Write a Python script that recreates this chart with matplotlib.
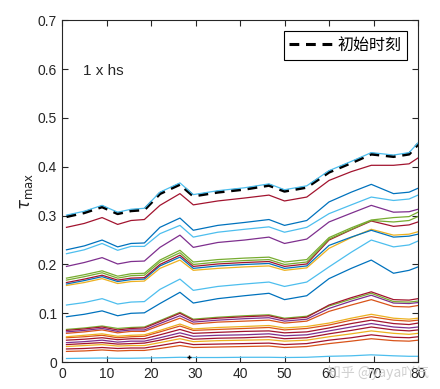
import matplotlib.pyplot as plt
import numpy as np

plt.rcParams['font.family'] = ['Liberation Sans', 'DejaVu Sans']

# sample positions along the x axis
x = [1, 5, 9, 12.5, 15.5, 18.5, 22, 26.5, 29.5, 35, 41, 46.5, 50, 55, 60, 65, 69.5, 74.5, 78, 80]

# initial state (dashed)
init = [0.298, 0.306, 0.318, 0.304, 0.310, 0.312, 0.345, 0.364, 0.340, 0.348, 0.354, 0.362, 0.350, 0.358,
        0.389, 0.408, 0.426, 0.421, 0.426, 0.446]
top_blue = [0.301, 0.309, 0.321, 0.307, 0.313, 0.315, 0.348, 0.367, 0.343, 0.351, 0.357, 0.365, 0.353, 0.361,
            0.392, 0.411, 0.429, 0.424, 0.429, 0.449]
red1 = [0.276, 0.284, 0.296, 0.282, 0.290, 0.292, 0.321, 0.345, 0.322, 0.330, 0.336, 0.342, 0.330, 0.338,
        0.372, 0.390, 0.403, 0.403, 0.406, 0.418]
blue1 = [0.230, 0.238, 0.250, 0.236, 0.243, 0.244, 0.276, 0.295, 0.270, 0.280, 0.286, 0.292, 0.280, 0.290,
         0.328, 0.348, 0.364, 0.345, 0.348, 0.356]
cyan1 = [0.222, 0.230, 0.243, 0.229, 0.237, 0.237, 0.263, 0.280, 0.256, 0.266, 0.272, 0.277, 0.266, 0.276,
         0.304, 0.322, 0.338, 0.331, 0.334, 0.342]
purple1 = [0.196, 0.204, 0.214, 0.201, 0.206, 0.207, 0.235, 0.260, 0.235, 0.245, 0.250, 0.256, 0.243, 0.252,
           0.287, 0.305, 0.321, 0.307, 0.308, 0.313]
green1 = [0.172, 0.179, 0.187, 0.176, 0.181, 0.182, 0.209, 0.229, 0.205, 0.210, 0.213, 0.215, 0.205, 0.210,
          0.255, 0.275, 0.291, 0.296, 0.298, 0.307]
green2 = [0.168, 0.175, 0.183, 0.172, 0.177, 0.178, 0.205, 0.224, 0.200, 0.205, 0.208, 0.210, 0.200, 0.205,
          0.252, 0.272, 0.290, 0.287, 0.290, 0.298]
darkred1 = [0.163, 0.170, 0.178, 0.168, 0.172, 0.173, 0.200, 0.219, 0.196, 0.201, 0.204, 0.206, 0.196, 0.201,
            0.250, 0.271, 0.289, 0.278, 0.281, 0.287]
navy1 = [0.160, 0.167, 0.175, 0.165, 0.169, 0.170, 0.197, 0.215, 0.192, 0.197, 0.200, 0.202, 0.192, 0.197,
         0.239, 0.256, 0.270, 0.256, 0.258, 0.262]
yellow1 = [0.157, 0.163, 0.171, 0.161, 0.165, 0.166, 0.192, 0.209, 0.188, 0.192, 0.195, 0.197, 0.188, 0.193,
           0.233, 0.255, 0.272, 0.260, 0.262, 0.267]
cyan2 = [0.117, 0.122, 0.130, 0.119, 0.123, 0.124, 0.149, 0.170, 0.147, 0.155, 0.160, 0.164, 0.155, 0.164,
         0.195, 0.225, 0.250, 0.236, 0.240, 0.248]
blue2 = [0.093, 0.098, 0.105, 0.095, 0.100, 0.101, 0.120, 0.143, 0.121, 0.130, 0.136, 0.141, 0.128, 0.136,
         0.171, 0.192, 0.209, 0.182, 0.188, 0.195]

# lower bundle
low1 = [0.065, 0.068, 0.072, 0.066, 0.069, 0.070, 0.083, 0.100, 0.086, 0.090, 0.093, 0.095, 0.088, 0.092,
        0.117, 0.132, 0.144, 0.128, 0.127, 0.130]
low2 = [0.067, 0.070, 0.074, 0.069, 0.071, 0.072, 0.085, 0.102, 0.088, 0.092, 0.095, 0.097, 0.090, 0.094,
        0.115, 0.129, 0.141, 0.124, 0.123, 0.125]
low3 = [0.062, 0.065, 0.069, 0.063, 0.066, 0.066, 0.079, 0.095, 0.082, 0.086, 0.089, 0.091, 0.084, 0.088,
        0.110, 0.125, 0.137, 0.121, 0.120, 0.122]
low4 = [0.059, 0.062, 0.066, 0.060, 0.063, 0.063, 0.075, 0.090, 0.078, 0.082, 0.084, 0.086, 0.080, 0.084,
        0.104, 0.117, 0.128, 0.114, 0.113, 0.116]
low5 = [0.052, 0.055, 0.058, 0.053, 0.055, 0.056, 0.065, 0.078, 0.068, 0.071, 0.073, 0.075, 0.070, 0.073,
        0.080, 0.090, 0.098, 0.090, 0.088, 0.090]
low6 = [0.050, 0.052, 0.055, 0.050, 0.052, 0.053, 0.062, 0.074, 0.065, 0.067, 0.069, 0.071, 0.066, 0.069,
        0.076, 0.086, 0.093, 0.086, 0.084, 0.086]
low7 = [0.045, 0.047, 0.050, 0.046, 0.048, 0.048, 0.056, 0.067, 0.059, 0.061, 0.063, 0.064, 0.060, 0.062,
        0.070, 0.079, 0.086, 0.079, 0.077, 0.080]
low8 = [0.040, 0.042, 0.045, 0.041, 0.043, 0.043, 0.050, 0.060, 0.053, 0.055, 0.056, 0.058, 0.054, 0.056,
        0.064, 0.072, 0.079, 0.072, 0.070, 0.072]
low9 = [0.036, 0.038, 0.040, 0.037, 0.038, 0.039, 0.045, 0.054, 0.047, 0.049, 0.050, 0.052, 0.048, 0.050,
        0.058, 0.065, 0.072, 0.066, 0.064, 0.066]
low10 = [0.032, 0.034, 0.036, 0.033, 0.034, 0.034, 0.040, 0.048, 0.042, 0.044, 0.045, 0.046, 0.043, 0.045,
         0.052, 0.058, 0.064, 0.059, 0.057, 0.059]
low11 = [0.027, 0.028, 0.030, 0.028, 0.029, 0.029, 0.034, 0.041, 0.036, 0.037, 0.038, 0.039, 0.036, 0.038,
         0.045, 0.050, 0.056, 0.051, 0.050, 0.052]
low12 = [0.022, 0.023, 0.025, 0.023, 0.024, 0.024, 0.028, 0.034, 0.030, 0.031, 0.032, 0.033, 0.030, 0.032,
         0.038, 0.043, 0.048, 0.044, 0.043, 0.045]
bottom = [0.0075, 0.008, 0.0085, 0.008, 0.008, 0.0085, 0.009, 0.010, 0.0095, 0.0095, 0.010, 0.010, 0.0095,
          0.010, 0.012, 0.013, 0.015, 0.013, 0.012, 0.012]

# matlab default colours
c_blue = (0, 0.447, 0.741)
c_orange = (0.85, 0.325, 0.098)
c_yellow = (0.929, 0.694, 0.125)
c_purple = (0.494, 0.184, 0.556)
c_green = (0.466, 0.674, 0.188)
c_cyan = (0.301, 0.745, 0.933)
c_red = (0.635, 0.078, 0.184)

lines = [
    (red1, c_red), (blue1, c_blue), (cyan1, c_cyan), (purple1, c_purple),
    (yellow1, c_yellow), (navy1, c_blue), (darkred1, c_red), (green2, c_green), (green1, c_green),
    (cyan2, c_cyan), (blue2, c_blue),
    (low12, c_orange), (low11, c_red), (low10, c_yellow), (low9, c_red), (low8, c_purple),
    (low7, c_red), (low6, c_orange), (low5, c_yellow), (low4, c_orange), (low3, c_purple),
    (low2, c_green), (low1, c_red),
    (bottom, c_cyan),
]

fig = plt.figure(figsize=(4.4, 3.89), dpi=100)
ax = fig.add_axes([0.141, 0.069, 0.809, 0.879])

for y, c in lines:
    ax.plot(x, y, color=c, linewidth=0.9)

h, = ax.plot(x, init, color='black', linestyle='--', linewidth=2.2, dashes=(3.2, 2.2))
ax.plot(x, top_blue, color=c_cyan, linewidth=0.9)
# small marker near the bottom
ax.plot([28.5], [0.01], marker='+', color='black', markersize=3, markeredgewidth=1)

ax.set_xlim(0, 80)
ax.set_ylim(0, 0.7)
ax.set_xticks(np.arange(0, 81, 10))
ax.set_yticks(np.arange(0, 0.71, 0.1))
ax.set_yticklabels(['0', '0.1', '0.2', '0.3', '0.4', '0.5', '0.6', '0.7'])
ax.tick_params(direction='in', top=True, right=True, length=4, labelsize=10, colors='#262626')
for s in ax.spines.values():
    s.set_color('#262626')
    s.set_linewidth(0.8)

ax.set_ylabel(r'$\tau_{\mathrm{max}}$', fontsize=12, color='#262626', labelpad=2)
ax.text(4.6, 0.596, '1 x hs', fontsize=11, va='center', color='#262626')

leg = ax.legend([h], ['初始时刻'], loc='upper right',
                prop={'family': ['Noto Sans CJK SC', 'DejaVu Sans'], 'size': 11.5},
                fancybox=False, framealpha=1, edgecolor='black', borderpad=0.35,
                handlelength=2.8, handletextpad=0.2, borderaxespad=0.7)
leg.get_frame().set_linewidth(0.8)

# watermark
fig.text(0.975, 0.022, '知乎 @yaya吖气', fontsize=10, color='#d0d0d0', ha='right', va='bottom',
         family=['Noto Sans CJK SC', 'DejaVu Sans'])

fig.savefig('out.png', dpi=100)
